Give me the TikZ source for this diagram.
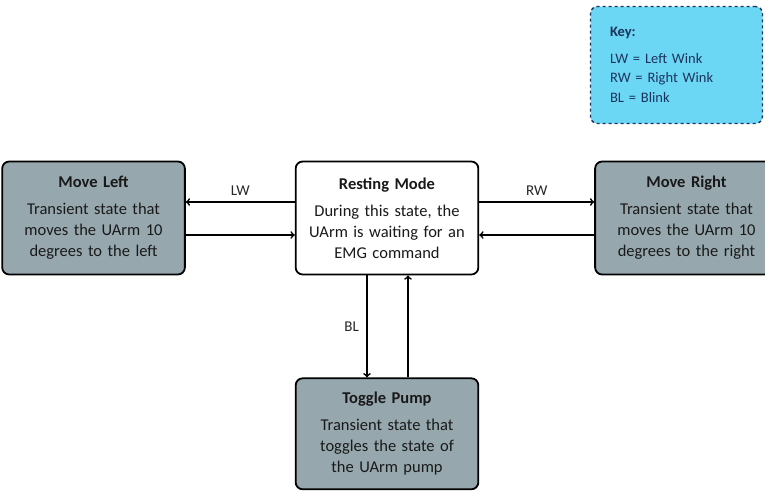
\documentclass[tikz,border=0pt]{standalone}
\usepackage{fontspec}
\setmainfont{Carlito}
\usetikzlibrary{shapes,arrows,positioning,calc}
\definecolor{stategray}{RGB}{150,168,174}
\definecolor{keyblue}{RGB}{108,214,245}
\definecolor{keynavy}{RGB}{28,52,92}

\begin{document}
\begin{tikzpicture}[
    x=1pt, y=-1pt,
    node distance=110pt,
    state/.style={rectangle, draw, rounded corners=7pt, minimum width=180pt, minimum height=113pt, text width=176pt, align=center, font=\fontsize{16.5}{21}\selectfont, line width=1.8pt, text=black!90},
    keybox/.style={rectangle, draw=keynavy, dashed, rounded corners=7pt, fill=keyblue, minimum width=172pt, minimum height=117pt, text width=133pt, align=left, font=\fontsize{14.5}{19.5}\selectfont, text=keynavy, line width=1.4pt},
    lbl/.style={font=\fontsize{15}{16}\selectfont, text=black!85},
    arrow/.style={->, >=to, line width=1.7pt}
]
\useasboundingbox (0,0) rectangle (765,490);

\node[state, fill=white] (rest) at (387,218) {\textbf{Resting Mode}\\[6pt]During this state, the\\UArm is waiting for an\\EMG command};
\node[state, fill=stategray, left=109pt of rest] (left) {\textbf{Move Left}\\[6pt]Transient state that\\moves the UArm 10\\degrees to the left};
\node[state, fill=stategray, right=115pt of rest] (right) {\textbf{Move Right}\\[6pt]Transient state that\\moves the UArm 10\\degrees to the right};
\node[state, fill=stategray, below=102pt of rest, minimum height=111pt] (pump) {\textbf{Toggle Pump}\\[6pt]Transient state that\\toggles the state of\\the UArm pump};

\node[keybox] (key) at (676.5,65) {\textbf{Key:}\\[7pt]LW = Left Wink\\RW = Right Wink\\BL = Blink};

\draw[arrow] ([yshift=16pt]rest.west) -- node[lbl, above=2pt] {LW} ([yshift=16pt]left.east);
\draw[arrow] ([yshift=-17pt]left.east) -- ([yshift=-17pt]rest.west);
\draw[arrow] ([yshift=16pt]rest.east) -- node[lbl, above=2pt] {RW} ([yshift=16pt]right.west);
\draw[arrow] ([yshift=-17pt]right.west) -- ([yshift=-17pt]rest.east);

\draw[arrow] ([xshift=-20pt]rest.south) -- node[lbl, left=4pt] {BL} ([xshift=-20pt]pump.north);
\draw[arrow] ([xshift=21pt]pump.north) -- ([xshift=21pt]rest.south);
\end{tikzpicture}
\end{document}
